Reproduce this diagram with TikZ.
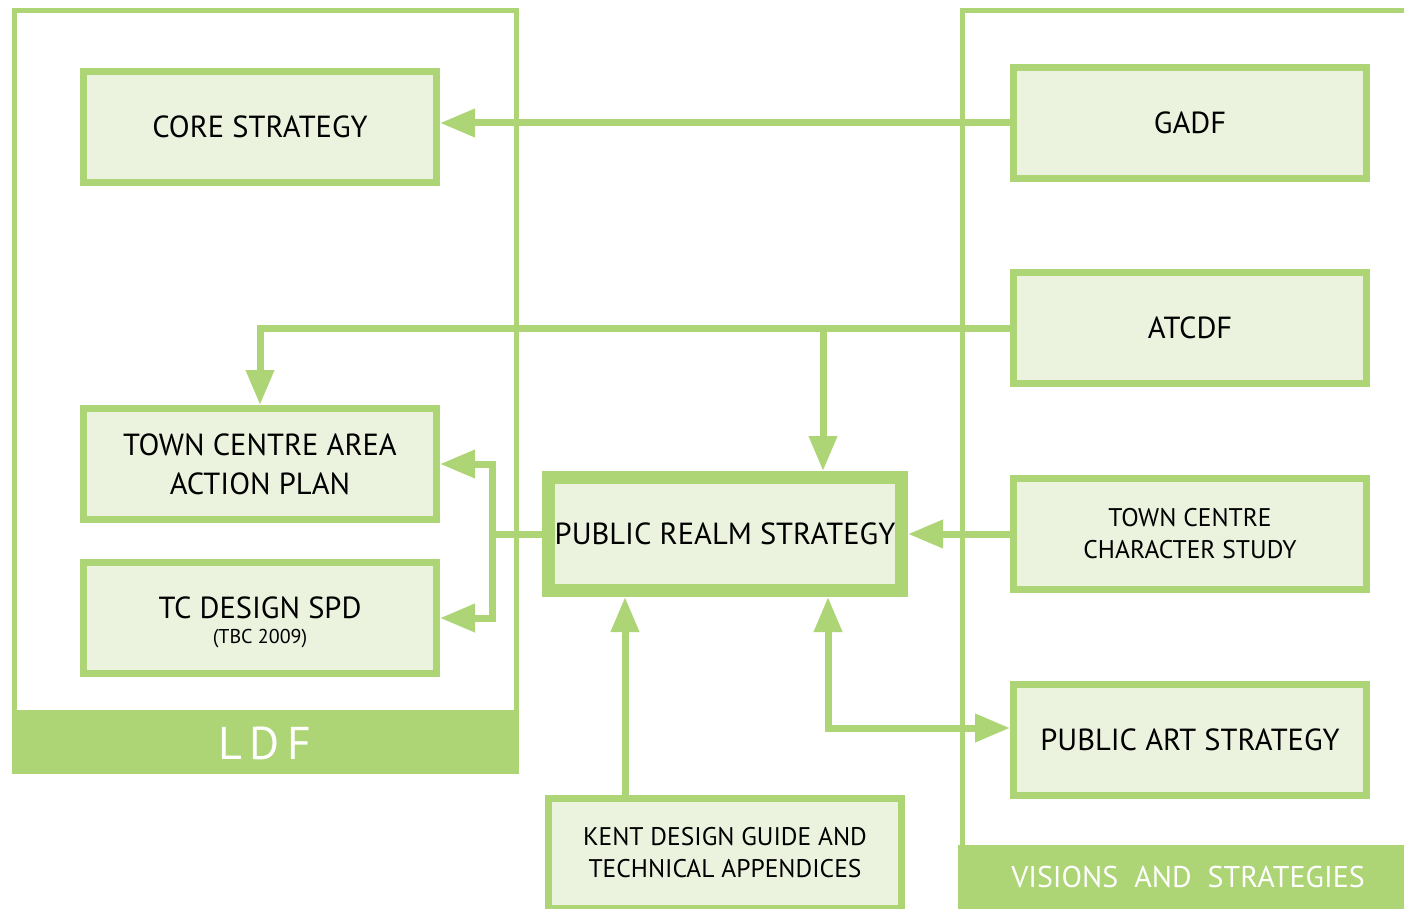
\documentclass[tikz,border=0pt]{standalone}
\usepackage{fontspec}
\setmainfont{PT Sans}
\usepackage{tikz}
\usetikzlibrary{arrows.meta,calc}
\usetikzlibrary{positioning}
\definecolor{leaf}{RGB}{173,212,117}
\definecolor{leaflight}{RGB}{235,243,222}

\begin{document}
\begin{tikzpicture}[x=1pt,y=1pt,yscale=-1,xscale=1,
  box/.style={draw=leaf,fill=leaflight,line width=7pt,minimum width=353pt,minimum height=111pt,inner sep=0pt,align=center,font=\fontsize{30.5}{39}\selectfont},
  smallbox/.style={box,font=\fontsize{25.5}{32}\selectfont},
  frame/.style={draw=leaf,line width=5pt},
  arr/.style={draw=leaf,line width=7pt,-{Triangle[length=35pt,width=27pt]}},
  arrboth/.style={draw=leaf,line width=7pt,{Triangle[length=35pt,width=27pt]}-{Triangle[length=35pt,width=27pt]}},
  band/.style={fill=leaf,text=white}]
  \useasboundingbox (0,0) rectangle (1404,909);

  %Frame: LDF
  \draw [frame] (14.5,10.5) rectangle (516.5,740);
  \fill [band] (12,710) rectangle (519,774);
  \node [text=white,font=\fontsize{46}{46}\selectfont] (ldf) at (265,743) {L\,D\,F};
  %Frame: visions and strategies
  \draw [frame] (1410,10.5) -- (962.5,10.5) -- (962.5,850);
  \fill [band] (958,845) rectangle (1404,909);
  \node [text=white,font=\fontsize{30}{30}\selectfont] (vas) at (1188,877) {VISIONS\ \ AND\ \ STRATEGIES};

  % Box Nodes
  \node [box] (core) at (260,127) {CORE STRATEGY};
  \node [box] (tcaap) at (260,464) {TOWN CENTRE AREA\\ACTION PLAN};
  \node [box] (tcd) at (260,618) {\\[-8pt]TC DESIGN SPD\\[-14pt]{\fontsize{20}{22}\selectfont (TBC 2009)}};
  \node [box] (gadf) at (1190,123) {GADF};
  \node [box] (atcdf) at (1190,328) {ATCDF};
  \node [smallbox] (tccs) at (1190,534) {TOWN CENTRE\\CHARACTER STUDY};
  \node [box] (pas) at (1190,740) {PUBLIC ART STRATEGY};
  \node [box,line width=13pt,minimum height=113pt] (prs) at (725,534) {PUBLIC REALM STRATEGY};
  \node [smallbox,minimum height=110pt] (kent) at (725,853) {KENT DESIGN GUIDE AND\\TECHNICAL APPENDICES};

  % Connector Coordinates
  \coordinate (split) at (823,328);
  \coordinate (fork) at (492,534);
  \coordinate (kentx) at (625,0);
  \coordinate (artx) at (828,0);
  \coordinate (artin) at (1010,728);

  % Connectors
  \draw [arr] (gadf.west) -- (core.east |- gadf.west);
  \draw [arr] (atcdf.west) -| (tcaap.north);
  \draw [arr] (split) -- (split |- prs.north);
  \draw [arr] (tccs.west) -- (prs.east);
  \draw [arr] (prs.west) -- (fork) |- (tcaap.east);
  \draw [arr] (fork) |- (tcd.east);
  \draw [arr] (kentx |- kent.north) -- (kentx |- prs.south);
  \draw [arrboth] (artx |- prs.south) |- (artin);
\end{tikzpicture}
\end{document}
